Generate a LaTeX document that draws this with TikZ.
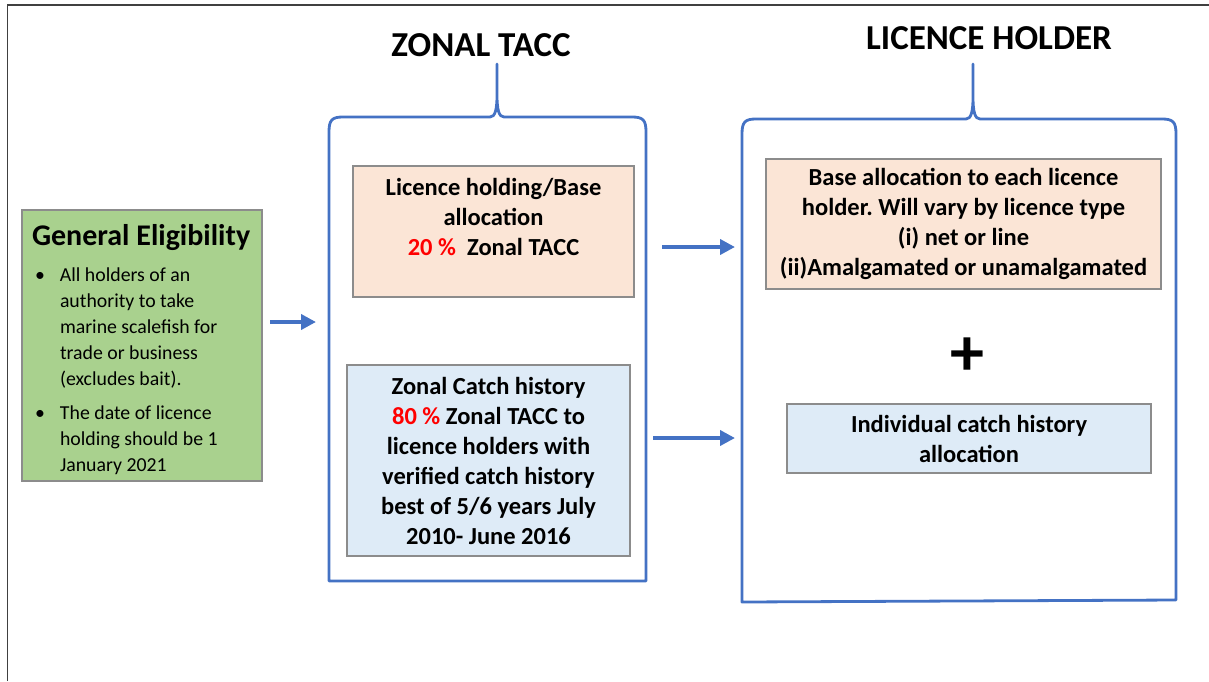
\documentclass[tikz,border=0pt]{standalone}
\usepackage{fontspec}
\setmainfont{Carlito}
\usetikzlibrary{arrows.meta}
\definecolor{brblue}{HTML}{4472C4}
\definecolor{peach}{HTML}{FBE5D6}
\definecolor{lblue}{HTML}{DEEBF7}
\definecolor{lgreen}{HTML}{A9D18E}
\definecolor{boxgray}{HTML}{8C8C8C}
\definecolor{framegray}{HTML}{404040}
\frenchspacing
\tikzset{
  infobox/.style={draw=boxgray, line width=1.3pt, inner sep=0pt, align=center,
    font=\fontsize{24.5}{30}\selectfont\bfseries},
  bracebox/.style={draw=brblue, line width=2.8pt, line join=round},
  flow/.style={draw=brblue, line width=4.5pt, -{Triangle[length=15pt,width=15pt]}},
  heading/.style={font=\fontsize{35}{40}\selectfont\bfseries, inner sep=0pt},
}
\begin{document}
\begin{tikzpicture}[x=1pt,y=-1pt]
\useasboundingbox (0,0) rectangle (1209,681);
% outer frame (top and left edges)
\draw[framegray, line width=1.3pt] (7.5,681) -- (7.5,5) -- (1209,5);

% headings
\node[heading] (zt) at (481,45) {ZONAL TACC};
\node[heading] (lh) at (989,38) {LICENCE HOLDER};

% brace frames
\draw[bracebox] (329,581) -- (329,132) .. controls (329,120) and (332,117) .. (343,117)
  -- (490,117) .. controls (495,117) and (497,110) .. (497,95) -- (497,64) -- (497,95)
  .. controls (497,110) and (499,117) .. (504,117) -- (632,117)
  .. controls (643,117) and (646,120) .. (646,132) -- (646,581) -- cycle;
\draw[bracebox] (742,602) -- (742,134) .. controls (742,122) and (745,119) .. (756,119)
  -- (966,119) .. controls (971,119) and (973,112) .. (973,97) -- (973,64) -- (973,97)
  .. controls (973,112) and (975,119) .. (980,119) -- (1162,119)
  .. controls (1173,119) and (1176,122) .. (1176,134) -- (1176,600) -- cycle;

% general eligibility
\node[draw=boxgray, fill=lgreen, line width=1.3pt, minimum width=240pt, minimum height=271pt, inner sep=0pt] (elig) at (142,345.5) {%
  \parbox{222pt}{\raggedright
  \vspace*{13pt}
  \hspace*{1pt}{\fontsize{30}{32}\selectfont\bfseries General Eligibility\par}
  \vspace{12pt}
  \fontsize{19.8}{26}\selectfont
  \begin{tabular}{@{}p{29pt}@{}l@{}}
  \hspace*{4pt}\textbullet & All holders of an\\
   & authority to take\\
   & marine scalefish for\\
   & trade or business\\
   & (excludes bait).\\[8pt]
  \hspace*{4pt}\textbullet & The date of licence\\
   & holding should be 1\\
   & January 2021
  \end{tabular}}};

% zonal boxes
\node[infobox, fill=peach, minimum width=281pt, minimum height=131pt] (base) at (493.5,231.5)
  {Licence holding/Base\\allocation\\{\color{red}20 \%}~~Zonal TACC\\~};
\node[infobox, fill=lblue, minimum width=283pt, minimum height=191pt] (catch) at (488.5,460.5)
  {Zonal Catch history\\{\color{red}80 \%} Zonal TACC to\\licence holders with\\verified catch history\\best of 5/6 years July\\2010- June 2016};

% licence holder boxes
\node[infobox, fill=peach, minimum width=395pt, minimum height=130pt] (lbase) at (963.5,224)
  {Base allocation to each licence\\holder. Will vary by licence type\\(i) net or line\\(ii)Amalgamated or unamalgamated};
\node[font=\fontsize{68}{68}\selectfont\bfseries, inner sep=0pt] (plus) at (967,357) {+};
\node[infobox, fill=lblue, minimum width=364pt, minimum height=69pt] (lcatch) at (969,438.5)
  {Individual catch history\\allocation};

% arrows
\coordinate (a1s) at (270,322);
\coordinate (a1e) at (316,322);
\coordinate (a2s) at (662,247);
\coordinate (a2e) at (735,247);
\coordinate (a3s) at (653,438);
\coordinate (a3e) at (735,438);
\draw[flow] (a1s) -- (a1e);
\draw[flow] (a2s) -- (a2e);
\draw[flow] (a3s) -- (a3e);
\end{tikzpicture}
\end{document}
